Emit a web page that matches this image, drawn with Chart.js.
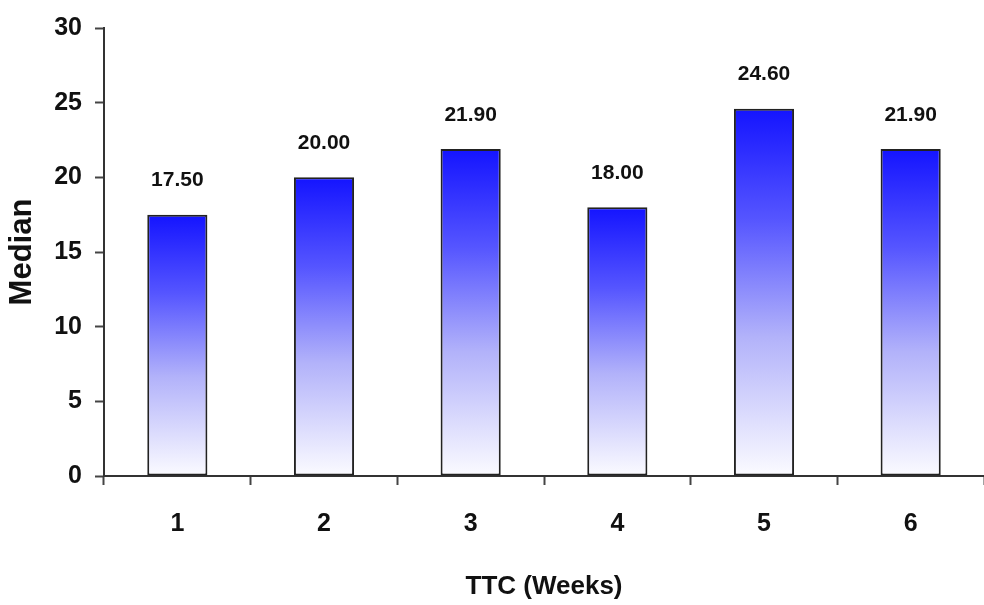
<!DOCTYPE html>
<html>
<head>
<meta charset="utf-8">
<script src="https://cdn.jsdelivr.net/npm/chart.js@4.4.1/dist/chart.umd.min.js"></script>
<style>
  html, body { margin: 0; padding: 0; background: #fff; overflow: hidden; }
  #wrap { width: 984px; height: 605px; position: relative; }
</style>
</head>
<body>
<div id="wrap"><canvas id="chart"></canvas></div>
<script>
const weeks = ["1", "2", "3", "4", "5", "6"];
const medians = [17.5, 20.0, 21.9, 18.0, 24.6, 21.9];
const yTicks = [0, 5, 10, 15, 20, 25, 30];

const FONT = "'Liberation Sans', Arial, sans-serif";

// 每根柱子单独的竖向渐变：顶部深蓝，底部接近白色
function barGradient(context) {
  const chart = context.chart;
  const area = chart.chartArea;
  if (!area || context.type !== "data") return "#4040ff";
  const y = chart.scales.y;
  const top = y.getPixelForValue(context.raw);
  const bottom = y.getPixelForValue(0);
  const g = chart.ctx.createLinearGradient(0, top, 0, bottom);
  g.addColorStop(0, "#1414ff");
  g.addColorStop(0.3, "#5555ff");
  g.addColorStop(0.62, "#b2b2fa");
  g.addColorStop(1, "#fbfbff");
  return g;
}

// 柱顶数值标签
const valueLabels = {
  id: "valueLabels",
  afterDatasetsDraw(chart) {
    const ctx = chart.ctx;
    const meta = chart.getDatasetMeta(0);
    ctx.save();
    ctx.font = "bold 21px " + FONT;
    ctx.fillStyle = "#111";
    ctx.textAlign = "center";
    ctx.textBaseline = "middle";
    meta.data.forEach((bar, i) => {
      ctx.fillText(medians[i].toFixed(2), bar.x, bar.y - 34);
    });
    ctx.restore();
  },
};

new Chart(document.getElementById("chart"), {
  type: "bar",
  data: {
    labels: weeks,
    datasets: [
      {
        data: medians,
        backgroundColor: barGradient,
        borderColor: "#222",
        borderWidth: 2,
        borderSkipped: false,
        barPercentage: 0.41,
        categoryPercentage: 1,
      },
    ],
  },
  options: {
    responsive: true,
    maintainAspectRatio: false,
    animation: false,
    layout: { padding: { top: 24, right: 0, left: 0, bottom: 0 } },
    plugins: { legend: { display: false }, tooltip: { enabled: false } },
    scales: {
      x: {
        grid: {
          display: true,
          drawOnChartArea: false,
          offset: true,
          tickLength: 9,
          tickWidth: 2,
          tickColor: "#444",
        },
        border: { color: "#333", width: 2 },
        ticks: {
          color: "#111",
          padding: 24,
          font: { family: FONT, size: 25, weight: "bold" },
        },
        title: {
          display: true,
          text: "TTC (Weeks)",
          color: "#111",
          font: { family: FONT, size: 26, weight: "bold" },
          padding: { top: 0, bottom: 3 },
        },
        afterFit(scale) {
          scale.height = 129;
        },
      },
      y: {
        min: 0,
        max: 30,
        afterBuildTicks(scale) {
          scale.ticks = yTicks.map((v) => ({ value: v }));
        },
        grid: {
          display: true,
          drawOnChartArea: false,
          tickLength: 9,
          tickWidth: 2,
          tickColor: "#444",
        },
        border: { color: "#333", width: 2 },
        ticks: {
          color: "#111",
          padding: 13,
          font: { family: FONT, size: 25, weight: "bold" },
        },
        title: {
          display: true,
          text: "Median",
          color: "#111",
          font: { family: FONT, size: 31, weight: "bold" },
          padding: { top: 4, bottom: 0 },
        },
        afterFit(scale) {
          scale.width = 104;
        },
      },
    },
  },
  plugins: [valueLabels],
});
</script>
</body>
</html>
